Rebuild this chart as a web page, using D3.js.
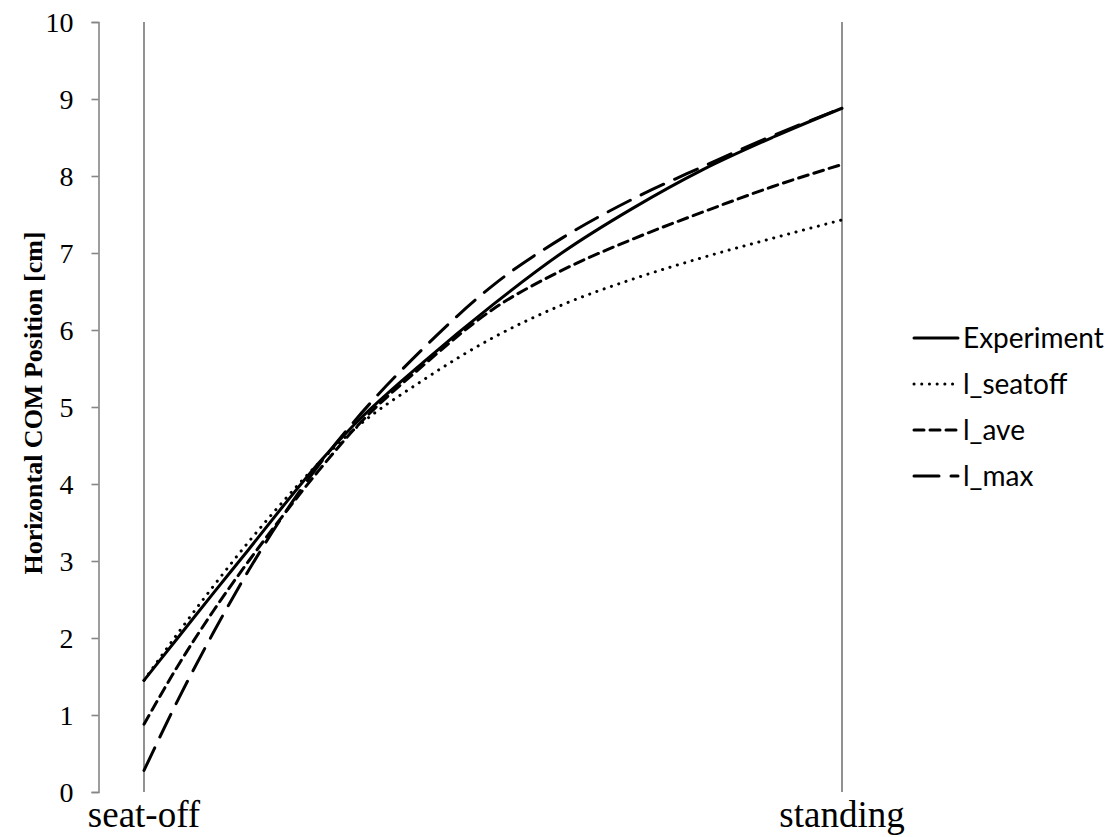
<!DOCTYPE html>
<html>
<head>
<meta charset="utf-8">
<script src="https://cdn.jsdelivr.net/npm/d3@7"></script>
<style>
  html, body { margin: 0; padding: 0; background: #fff; }
  svg { display: block; }
</style>
</head>
<body>
<svg id="chart" width="1110" height="837"></svg>
<script>
// ---- data ----
const categories = ["seat-off", "standing"];
const categoryPos = [0, 1];
const yTicks = [0, 1, 2, 3, 4, 5, 6, 7, 8, 9, 10];
const yTitle = "Horizontal COM Position [cm]";
// normalized time between seat-off (0) and standing (1)
const timeNorm = [0, 0.05, 0.1, 0.15, 0.2, 0.25, 0.3, 0.4, 0.5, 0.6, 0.7, 0.8, 0.9, 1.0];
const experiment = [1.45, 2.02, 2.59, 3.15, 3.72, 4.27, 4.76, 5.58, 6.33, 7.01, 7.58, 8.08, 8.50, 8.88];
const lSeatoff   = [1.45, 2.08, 2.68, 3.25, 3.78, 4.27, 4.70, 5.35, 5.90, 6.33, 6.66, 6.94, 7.19, 7.43];
const lAve       = [0.88, 1.66, 2.36, 3.00, 3.60, 4.17, 4.70, 5.54, 6.27, 6.78, 7.18, 7.53, 7.86, 8.15];
const lMax       = [0.28, 1.22, 2.08, 2.88, 3.60, 4.24, 4.80, 5.76, 6.58, 7.20, 7.70, 8.12, 8.52, 8.88];
const seriesNames = ["Experiment", "l_seatoff", "l_ave", "l_max"];
const seriesValues = [experiment, lSeatoff, lAve, lMax];
const seriesDash = [null, "0.1,7.6", "10,6", "25,12"];

// ---- layout ----
const svg = d3.select("#chart");
const x = d3.scaleLinear().domain([0, 1]).range([144, 842]);
const y = d3.scaleLinear().domain([0, 10]).range([792, 22]);
const axisX = 98.5;

// y axis
const yAxis = d3.axisLeft(y).tickValues(yTicks).tickSize(7).tickPadding(18).tickFormat(d3.format("d"));
const gy = svg.append("g").attr("transform", `translate(${axisX},0)`).call(yAxis);
gy.attr("font-family", "'Liberation Serif', 'Times New Roman', serif").attr("font-size", 28);
gy.select(".domain").attr("stroke", "#868686").attr("stroke-width", 1.6);
gy.selectAll(".tick line").attr("stroke", "#868686").attr("stroke-width", 1.6);
gy.selectAll(".tick text")
  .attr("font-family", "'Liberation Serif', 'Times New Roman', serif")
  .attr("font-size", 28).attr("fill", "#000").attr("dy", "0.34em");

// category vertical lines
svg.append("g").selectAll("line").data(categoryPos).join("line")
  .attr("x1", d => x(d)).attr("x2", d => x(d))
  .attr("y1", y(10)).attr("y2", y(0))
  .attr("stroke", "#868686").attr("stroke-width", 1.8);

// category labels
svg.append("g").selectAll("text").data(categories).join("text")
  .attr("x", (d, i) => x(categoryPos[i]))
  .attr("y", 827)
  .attr("text-anchor", "middle")
  .attr("font-family", "'Liberation Serif', 'Times New Roman', serif")
  .attr("font-size", 37).attr("fill", "#000")
  .text(d => d);

// y title
svg.append("text")
  .attr("transform", `translate(42,${(y(0) + y(10)) / 2 - 4}) rotate(-90)`)
  .attr("text-anchor", "middle")
  .attr("font-family", "'Liberation Serif', 'Times New Roman', serif")
  .attr("font-weight", "bold")
  .attr("font-size", 26).attr("fill", "#000")
  .text(yTitle);

// lines
const line = d3.line().x((d, i) => x(timeNorm[i])).y(d => y(d)).curve(d3.curveMonotoneX);
const drawOrder = [1, 2, 3, 0];
drawOrder.forEach(k => {
  svg.append("path")
    .attr("d", line(seriesValues[k]))
    .attr("fill", "none")
    .attr("stroke", "#000")
    .attr("stroke-width", 3)
    .attr("stroke-linecap", "round")
    .attr("stroke-dasharray", seriesDash[k]);
});

// legend
const legendY = [338, 384, 430, 476];
const lg = svg.append("g");
seriesNames.forEach((name, i) => {
  lg.append("line")
    .attr("x1", 914).attr("x2", 958)
    .attr("y1", legendY[i]).attr("y2", legendY[i])
    .attr("stroke", "#000").attr("stroke-width", 3)
    .attr("stroke-linecap", "round")
    .attr("stroke-dasharray", seriesDash[i]);
  lg.append("text")
    .attr("x", 963).attr("y", legendY[i]).attr("dy", "0.35em")
    .attr("font-family", "Lato, 'Open Sans', sans-serif")
    .attr("font-size", 28).attr("fill", "#000")
    .text(name);
});
</script>
</body>
</html>
